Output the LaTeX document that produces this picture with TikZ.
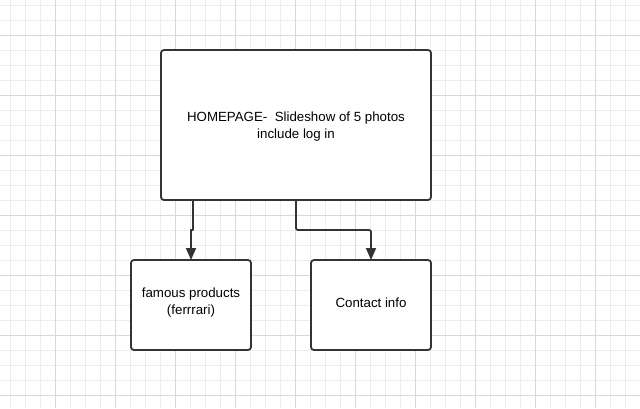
\documentclass[tikz,border=0pt]{standalone}
\usepackage{fontspec}
\setmainfont{Liberation Sans}
\usetikzlibrary{arrows.meta}
\definecolor{minorgrid}{HTML}{EDEDED}
\definecolor{majorgrid}{HTML}{D8D8D8}
\definecolor{ink}{HTML}{333333}
\begin{document}
\begin{tikzpicture}[x=1pt,y=-1pt,
  box/.style={draw=ink,line width=1.8pt,rounded corners=3pt,fill=white},
  label/.style={font=\fontsize{13.3}{17}\selectfont,align=center,inner sep=0pt},
  link/.style={draw=ink,line width=1.8pt,-{Triangle[length=12pt,width=10pt]}}]
\useasboundingbox (0,0) rectangle (640,408);
\fill[white] (0,0) rectangle (640,408);
\foreach \x in {10,25,...,640} \draw[minorgrid,line width=0.7pt] (\x,0) -- (\x,408);
\foreach \y in {5,20,...,408} \draw[minorgrid,line width=0.7pt] (0,\y) -- (640,\y);
\foreach \x in {55,115,...,640} \draw[majorgrid,line width=0.7pt] (\x,0) -- (\x,408);
\foreach \y in {35,95,...,408} \draw[majorgrid,line width=0.7pt] (0,\y) -- (640,\y);
\path[box] (161,50) rectangle (431,200);
\node[label] (home) at (296,127) {HOMEPAGE-\ \ Slideshow of 5 photos\\include log in};
\path[box] (131,260) rectangle (251,350);
\node[label] (prod) at (191,303) {famous products\\(ferrrari)};
\path[box] (311,260) rectangle (431,350);
\node[label] (contact) at (371,303) {Contact info};
\coordinate (l0) at (193,200);
\coordinate (l1) at (193,230);
\coordinate (l2) at (191,230);
\coordinate (lt) at (191,260);
\coordinate (r0) at (296,200);
\coordinate (r1) at (296,230);
\coordinate (r2) at (371,230);
\coordinate (rt) at (371,260);
\draw[link,line join=round] (l0) -- (l1) -- (l2) -- (lt);
\draw[link,rounded corners=2pt] (r0) -- (r1) -- (r2) -- (rt);
\end{tikzpicture}
\end{document}
